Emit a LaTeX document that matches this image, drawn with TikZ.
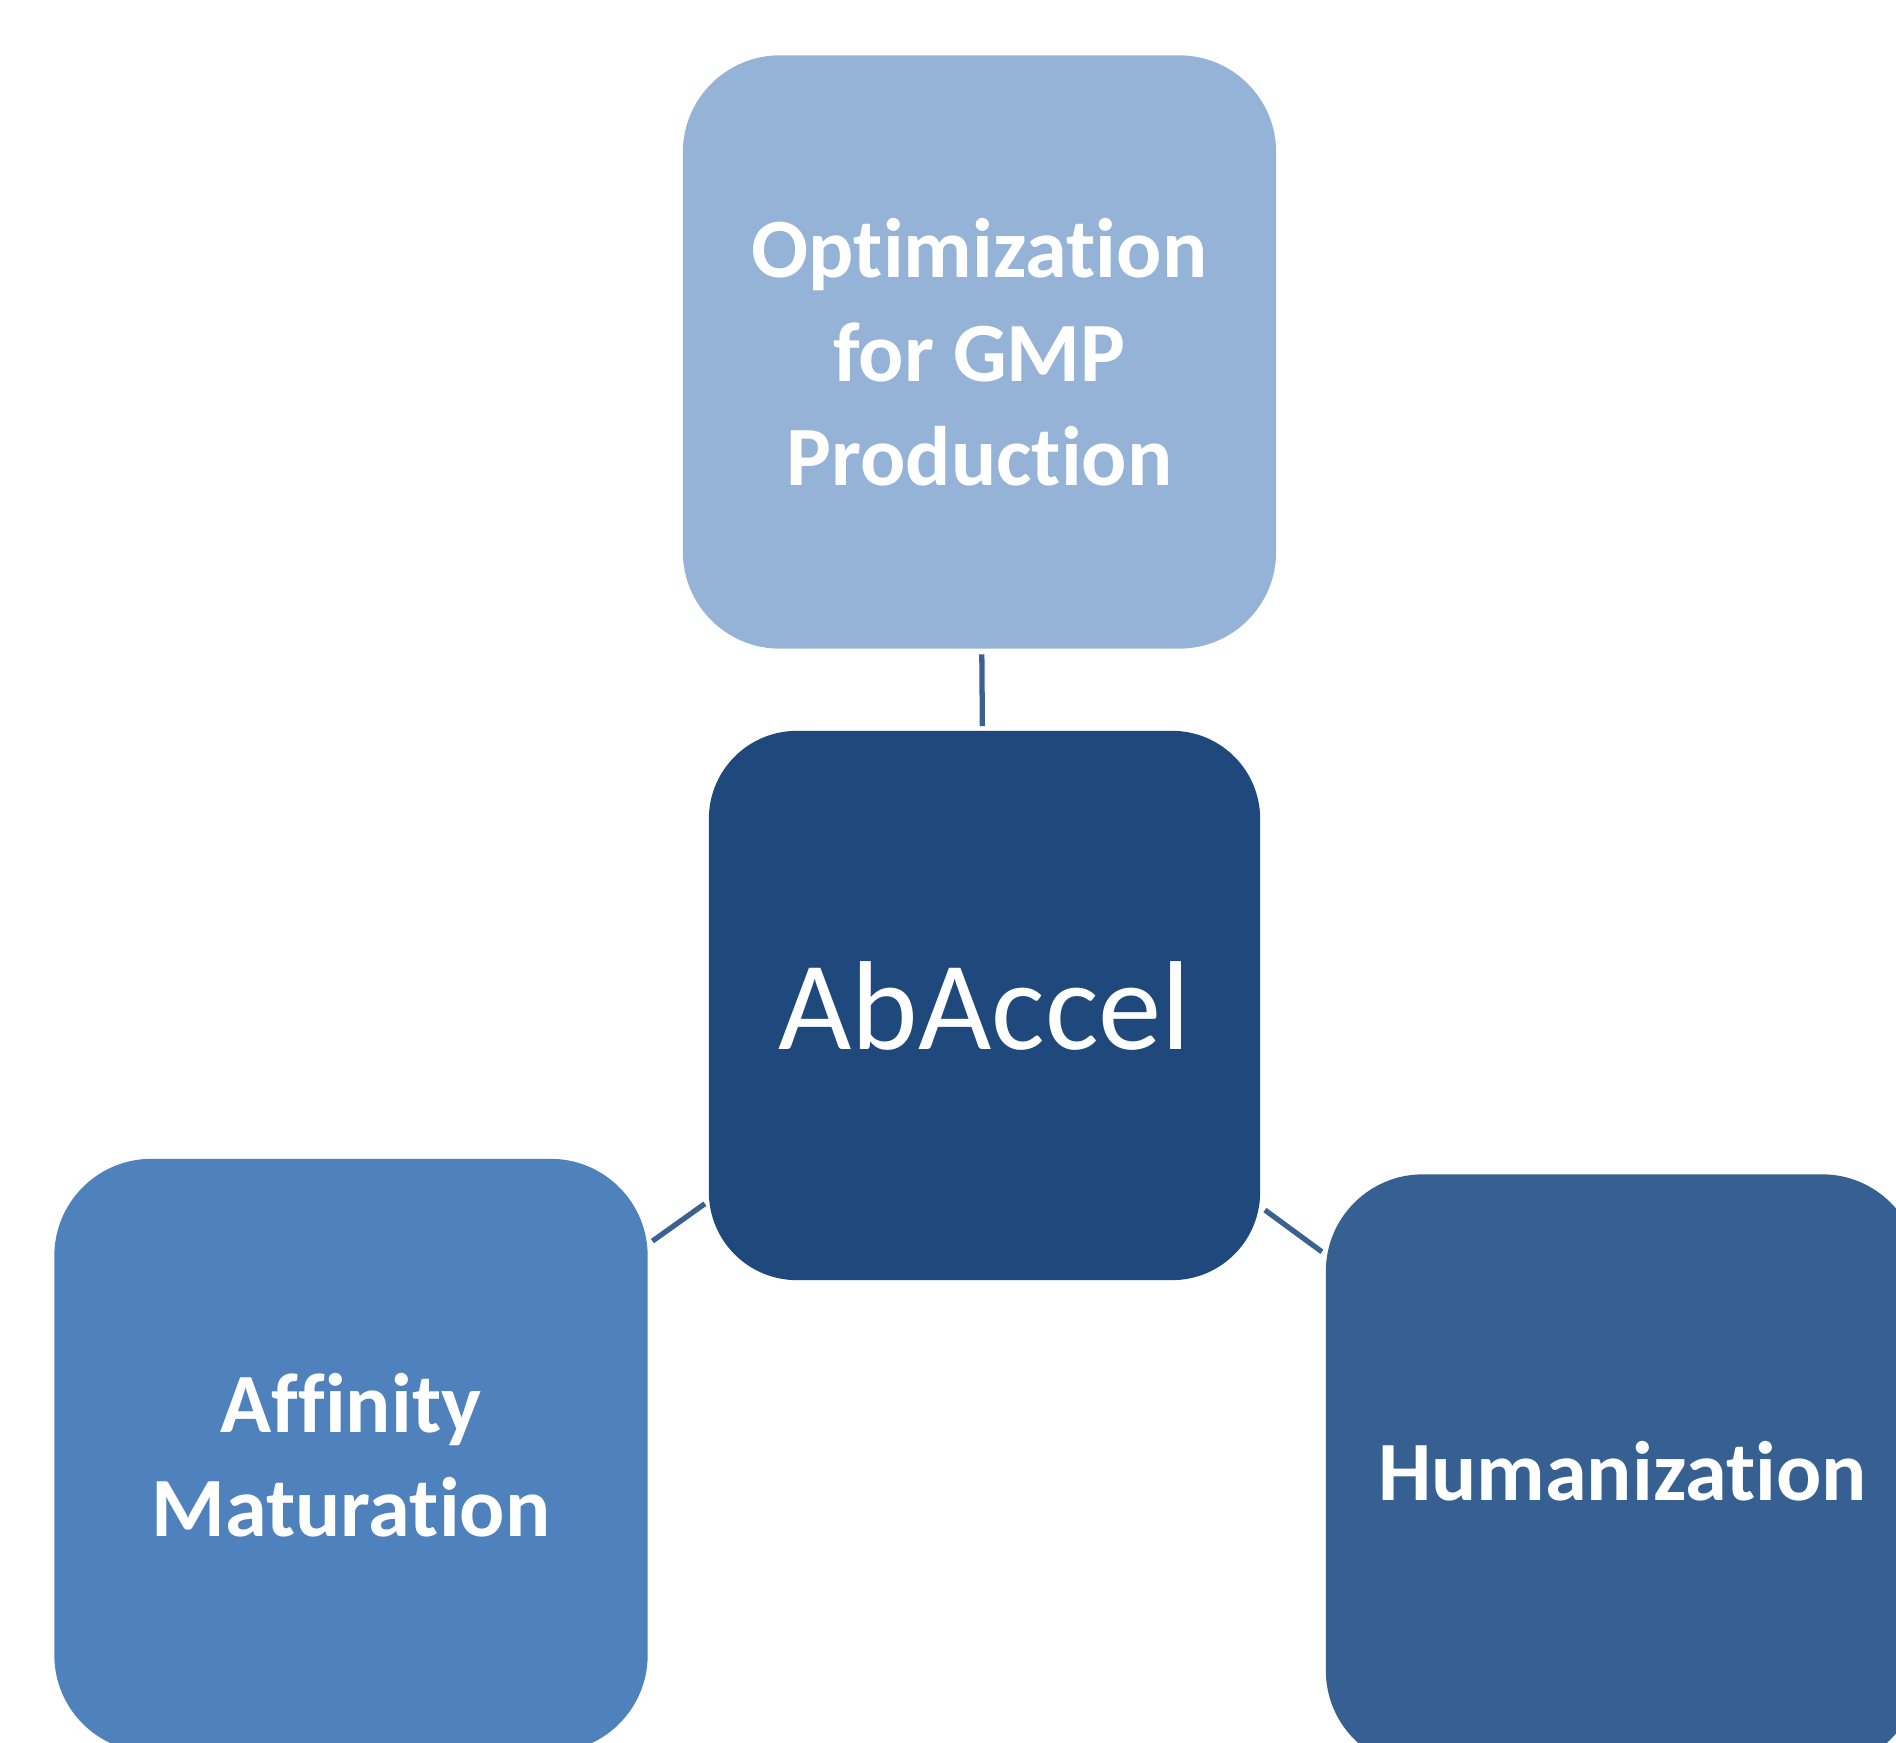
\documentclass[tikz,border=0pt]{standalone}
\usepackage{fontspec}
\setmainfont[Ligatures={NoCommon}]{Carlito}
\definecolor{optblue}{HTML}{95B3D7}
\definecolor{coreblue}{HTML}{1F497D}
\definecolor{affblue}{HTML}{4F81BD}
\definecolor{humblue}{HTML}{376092}
\definecolor{linkblue}{HTML}{3A6192}
\begin{document}
\begin{tikzpicture}
        [%%%%%%%%%%%%%%%%%%%%%%%%%%%%%%
        x=0.01cm,y=-0.01cm,
        petal/.style={rectangle,rounded corners=0.97cm,minimum width=5.93cm,minimum height=5.93cm,
                      inner sep=0pt,align=center,text=white,font=\fontsize{24}{29.5}\selectfont\bfseries},
        core/.style={rectangle,rounded corners=0.88cm,minimum width=5.51cm,minimum height=5.49cm,
                     inner sep=0pt,fill=coreblue,text=white,font=\fontsize{36}{43}\selectfont},
        link/.style={draw=linkblue,line width=1.5pt,shorten <=0.05cm,shorten >=0.04cm},
        ]%%%%%%%%%%%%%%%%%%%%%%%%%%%%%%
        \useasboundingbox (0,0) rectangle (1896,1743);
        \clip (0,0) rectangle (1896,1743);

        \node[core] (abaccel) at (984.5,1005.5) {AbAccel};

        \node[petal,fill=optblue] (opt) at (979.5,352) {Optimization\\for GMP\\Production};
        \node[petal,fill=affblue] (aff) at (351,1455.5) {Affinity\\Maturation};
        \node[petal,fill=humblue] (hum) at (1622.5,1471) {Humanization};

        \draw[link] (opt) -- (abaccel);
        \draw[link] (aff) -- (abaccel);
        \draw[link] (abaccel) -- (hum);
      \end{tikzpicture}
\end{document}
